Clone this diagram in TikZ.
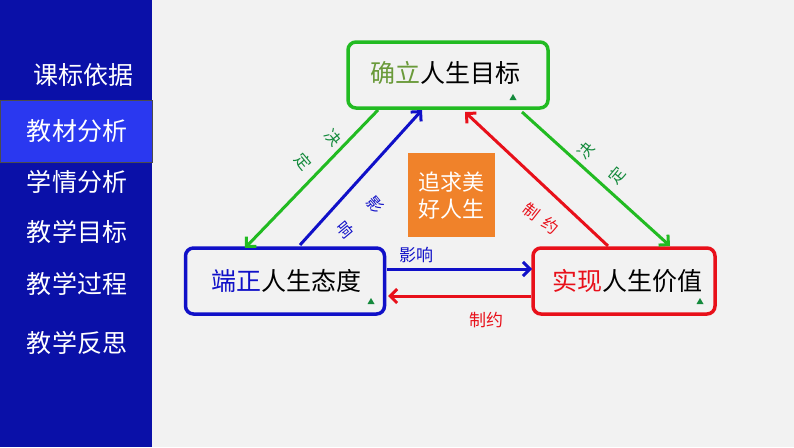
\documentclass[tikz,border=0pt]{standalone}
\usepackage{fontspec}
\setmainfont{Noto Sans CJK SC}
\newfontfamily\cjk{Noto Sans CJK SC}
\usetikzlibrary{arrows.meta}
\definecolor{bg}{HTML}{F2F2F2}
\definecolor{side}{HTML}{0A10A8}
\definecolor{hl}{HTML}{2A38F0}
\definecolor{gbox}{HTML}{22BB22}
\definecolor{bbox}{HTML}{1010C8}
\definecolor{rbox}{HTML}{E8101A}
\definecolor{glab}{HTML}{148A3C}
\definecolor{olive}{HTML}{6A9A3A}
\definecolor{orng}{HTML}{F0822A}
\tikzset{
  sidetext/.style={text=white,font=\cjk\fontsize{25}{29}\selectfont,inner sep=0pt},
  mainbox/.style={rounded corners=8pt,line width=3.5pt,fill=bg,minimum height=64pt,inner sep=0pt},
  boxtext/.style={font=\cjk\fontsize{25}{29}\selectfont,inner sep=0pt},
  conn/.style={line width=3pt,-{Straight Barb[length=7pt,width=14pt]}},
  smalllab/.style={font=\cjk\fontsize{16}{19}\selectfont,inner sep=0pt},
  tree/.style={fill=glab,draw=none}
}
\begin{document}
\begin{tikzpicture}[x=1pt,y=-1pt]
\fill[bg] (0,0) rectangle (794,447);
\useasboundingbox (0,0) rectangle (794,447);
% sidebar
\fill[side] (0,0) rectangle (152,447);
\draw[fill=hl,draw=black!70,line width=0.8pt] (0.5,100) rectangle (152,162);
\node[sidetext] (s1) at (83,75) {课标依据};
\node[sidetext] (s2) at (77,131) {教材分析};
\node[sidetext] (s3) at (77,182) {学情分析};
\node[sidetext] (s4) at (77,232) {教学目标};
\node[sidetext] (s5) at (77,284) {教学过程};
\node[sidetext] (s6) at (77,343) {教学反思};
% boxes
\node[mainbox,draw=gbox,minimum width=200pt,minimum height=66pt] (top) at (448,75) {};
\node[boxtext] (toptext) at (445,73) {\textcolor{olive}{确立}人生目标};
\node[mainbox,draw=bbox,minimum width=199pt,minimum height=66pt] (bl) at (285,281) {};
\node[boxtext] (bltext) at (286,281) {\textcolor{bbox}{端正}人生态度};
\node[mainbox,draw=rbox,minimum width=182pt,minimum height=66pt] (br) at (624,281) {};
\node[boxtext] (brtext) at (627,281) {\textcolor{rbox}{实现}人生价值};
% tree markers
\fill[tree] (513,94) -- (509.5,100) -- (516.5,100) -- cycle;
\fill[tree] (371,298) -- (367.5,304) -- (374.5,304) -- cycle;
\fill[tree] (700,298) -- (696.5,304) -- (703.5,304) -- cycle;
% orange box
\node[fill=orng,minimum width=87pt,minimum height=84pt,inner sep=0pt] (goal) at (451.5,195) {};
\node[text=white,font=\cjk\fontsize{22}{27}\selectfont,align=center,inner sep=0pt] (goaltext) at (451.5,196) {追求美\\好人生};
% connection anchors
\coordinate (g1s) at (378,110);
\coordinate (g1e) at (245,248);
\coordinate (b1s) at (300,245);
\coordinate (b1e) at (422,110);
\coordinate (r1s) at (608,246);
\coordinate (r1e) at (465,112);
\coordinate (g2s) at (522,112);
\coordinate (g2e) at (670,246);
\coordinate (hbs) at (387,269);
\coordinate (hbe) at (532,269);
\coordinate (hrs) at (531,296);
\coordinate (hre) at (388,296);
\draw[conn,draw=gbox] (g1s) -- (g1e);
\draw[conn,draw=bbox] (b1s) -- (b1e);
\draw[conn,draw=rbox] (r1s) -- (r1e);
\draw[conn,draw=gbox] (g2s) -- (g2e);
\draw[conn,draw=bbox] (hbs) -- (hbe);
\draw[conn,draw=rbox] (hrs) -- (hre);
% labels
\node[smalllab,text=glab,rotate=-50] (la1) at (333,138) {决};
\node[smalllab,text=glab,rotate=-50] (la2) at (303,162) {定};
\node[smalllab,text=glab,rotate=50] (lb1) at (586,150) {决};
\node[smalllab,text=glab,rotate=50] (lb2) at (617,175) {定};
\node[smalllab,text=bbox,rotate=-50] (lc1) at (375,205) {影};
\node[smalllab,text=bbox,rotate=-50] (lc2) at (345,230) {响};
\node[smalllab,text=rbox,rotate=-38] (ld1) at (532,212) {制};
\node[smalllab,text=rbox,rotate=-38] (ld2) at (551,226) {约};
\node[smalllab,text=bbox,font=\cjk\fontsize{17}{20}\selectfont] (le) at (416,255) {影响};
\node[smalllab,text=rbox,font=\cjk\fontsize{17}{20}\selectfont] (lf) at (486,320) {制约};
\end{tikzpicture}
\end{document}
